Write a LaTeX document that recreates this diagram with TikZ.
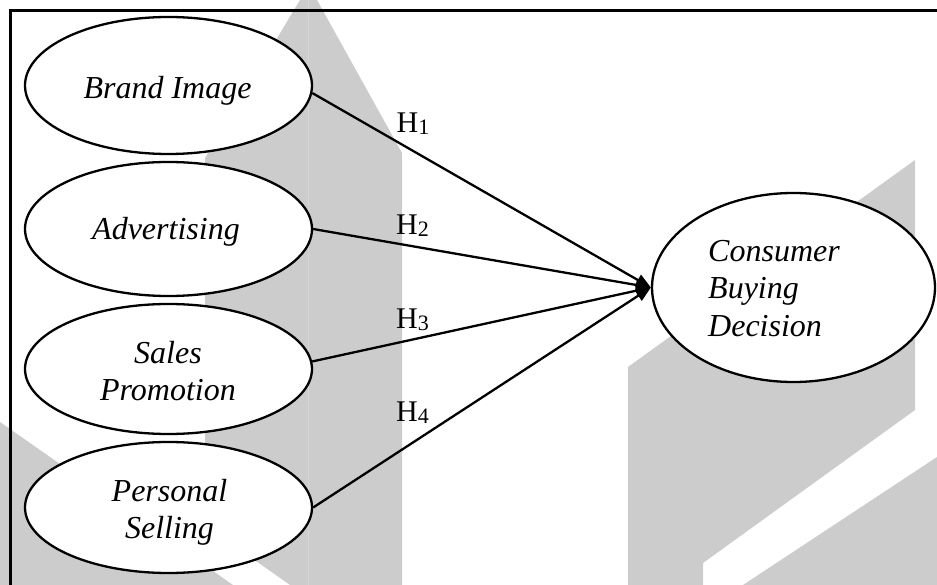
\documentclass[tikz,border=0pt]{standalone}
\usepackage{fontspec}
\setmainfont{Liberation Serif}
\usetikzlibrary{shapes.geometric,arrows.meta}
\definecolor{wm}{RGB}{204,204,204}
\definecolor{wmline}{RGB}{214,214,214}
\begin{document}
\begin{tikzpicture}[x=1pt,y=-1pt,
  oval/.style={ellipse,draw=black,line width=2.3pt,fill=white,inner sep=0pt,minimum width=287pt},
  vtext/.style={font=\fontsize{32}{37}\selectfont\itshape,inner sep=0pt,align=center},
  hyp/.style={font=\fontsize{30}{32}\selectfont,inner sep=0pt,anchor=base west},
  link/.style={line width=2.3pt,-{Triangle[length=15pt,width=12pt]}},
]
\useasboundingbox (0,0) rectangle (937,585);
% watermark
\fill[wm] (205,525) -- (205,158) -- (300,0) -- (317,0) -- (402,153) -- (402,585) -- (290,585) -- cycle;
\draw[wmline,line width=1pt] (308.5,0) -- (308.5,585);
\fill[wm] (0,422) -- (233,585) -- (0,585) -- cycle;
\fill[wm] (628,585) -- (628,367) -- (915,160) -- (915,410) -- (703,563) -- (703,585) -- cycle;
\fill[wm] (743,585) -- (937,457) -- (937,585) -- cycle;
% frame
\draw[line width=2.4pt] (10.5,585) -- (10.5,10.5) -- (937,10.5);
% ellipses
\node[oval,minimum height=137pt] (bi) at (168.5,85.5) {};
\node[oval,minimum height=134pt] (adv) at (168.5,229) {};
\node[oval,minimum height=130pt] (sp) at (168.5,369) {};
\node[oval,minimum height=131pt] (ps) at (168.5,507.5) {};
\node[oval,minimum width=283pt,minimum height=189pt] (cbd) at (793.5,287.5) {};
% texts
\node[vtext,anchor=base] (bit) at (167.5,99) {Brand Image};
\node[vtext,anchor=base] (advt) at (166,240) {Advertising};
\node[vtext,anchor=base] (spt) at (168,400) {Sales\\Promotion};
\node[vtext,anchor=base] (pst) at (169.5,538) {Personal\\Selling};
\node[vtext,align=left,anchor=base west] (cbdt) at (708,336) {Consumer\\Buying\\Decision};
% hypotheses
\node[hyp] (h1) at (396.5,132.5) {H\raisebox{-2pt}{\fontsize{22}{24}\selectfont 1}};
\node[hyp] (h2) at (396,235) {H\raisebox{-2pt}{\fontsize{22}{24}\selectfont 2}};
\node[hyp] (h3) at (396,328) {H\raisebox{-2pt}{\fontsize{22}{24}\selectfont 3}};
\node[hyp] (h4) at (396,421.5) {H\raisebox{-2pt}{\fontsize{22}{24}\selectfont 4}};
% connectors
\draw[link] (bi.-3.8) -- (cbd.west);
\draw[link] (adv.east) -- (cbd.west);
\draw[link] (sp.3.6) -- (cbd.west);
\draw[link] (ps.east) -- (cbd.west);
\end{tikzpicture}
\end{document}
